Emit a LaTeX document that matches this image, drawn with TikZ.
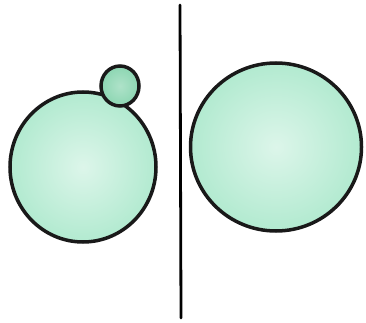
\documentclass[tikz,border=0pt]{standalone}
\usetikzlibrary{shapes.geometric}
\definecolor{mint}{RGB}{178,234,208}
\definecolor{mintdark}{RGB}{140,214,178}
\begin{document}
\begin{tikzpicture}[x=1pt,y=-1pt,
    bubble/.style={ellipse,draw=black!90,line width=3.5pt,inner sep=0pt,
      inner color=mint!45,outer color=mint}]
    \useasboundingbox[fill=white] (0,0) rectangle (366,323);
    \coordinate (top) at (180,5);
    \coordinate (bottom) at (181,318);
    \draw[line width=2.8pt,line cap=round] (top) -- (bottom);
    \node[bubble,minimum width=146pt,minimum height=150pt] (big) at (83,167) {};
    \node[bubble,minimum width=38pt,minimum height=40pt,
      inner color=mintdark!70,outer color=mintdark] (small) at (120,86) {};
    \node[bubble,minimum width=171pt,minimum height=168pt] (other) at (276,147) {};
  \end{tikzpicture}
\end{document}
